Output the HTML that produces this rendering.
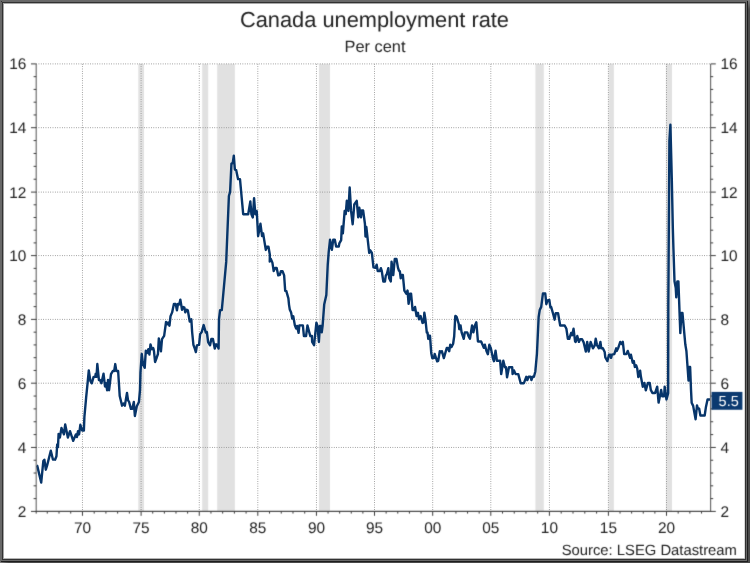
<!DOCTYPE html>
<html><head><meta charset="utf-8"><title>Canada unemployment rate</title>
<style>
html,body{margin:0;padding:0;background:#fff;}
body{width:750px;height:563px;position:relative;overflow:hidden;font-family:"Liberation Sans",sans-serif;}
svg text{font-family:"Liberation Sans",sans-serif;text-rendering:geometricPrecision;}
</style></head><body>
<svg width="750" height="563" viewBox="0 0 750 563" style="position:absolute;left:0;top:0;will-change:transform;opacity:0.9999">
<defs><linearGradient id="gv" x1="0" y1="0" x2="0" y2="1"><stop offset="0" stop-color="#808080"/><stop offset="1" stop-color="#4a4a4a"/></linearGradient><linearGradient id="gh" x1="0" y1="0" x2="1" y2="0"><stop offset="0" stop-color="#808080"/><stop offset="1" stop-color="#484848"/></linearGradient></defs>
<rect x="0" y="0" width="750" height="563" fill="#494949"/>
<rect x="748" y="0" width="2" height="9" fill="url(#gv)"/>
<rect x="0" y="562" width="9" height="1" fill="url(#gh)"/>
<rect x="0" y="0" width="748" height="562" fill="#1e1e1e"/>
<rect x="0" y="0" width="747" height="561" fill="#686868"/>
<rect x="2" y="2" width="744" height="558" fill="#313131"/>
<rect x="3" y="3" width="742" height="556" fill="#fff"/>
<rect x="3" y="3" width="1" height="556" fill="#a4a4a4"/>
<rect x="3" y="3" width="742" height="1" fill="#a8a8a8"/>
<rect x="744" y="4" width="1" height="555" fill="#d8d8d8"/>
<rect x="4" y="558" width="741" height="1" fill="#b4b4b4"/>
<rect x="1" y="1" width="1" height="1" fill="#333"/>
<rect x="747" y="0" width="1" height="1" fill="#686868"/>
<rect x="0" y="561" width="1" height="1" fill="#686868"/>
<filter id="sb" color-interpolation-filters="sRGB" x="0" y="0" width="750" height="563" filterUnits="userSpaceOnUse"><feConvolveMatrix order="3" kernelMatrix="0.01210 0.08580 0.01210 0.08580 0.60840 0.08580 0.01210 0.08580 0.01210" divisor="1" edgeMode="duplicate"/></filter>
<g filter="url(#sb)">
<rect x="6" y="6" width="736" height="550" fill="#fff"/>
<rect x="138.3" y="63.9" width="5.70" height="447.50" fill="#e1e1e1"/>
<rect x="202.2" y="63.9" width="6.00" height="447.50" fill="#e1e1e1"/>
<rect x="217.2" y="63.9" width="17.70" height="447.50" fill="#e1e1e1"/>
<rect x="319.0" y="63.9" width="11.00" height="447.50" fill="#e1e1e1"/>
<rect x="535.4" y="63.9" width="8.40" height="447.50" fill="#e1e1e1"/>
<rect x="608.5" y="63.9" width="5.40" height="447.50" fill="#e1e1e1"/>
<rect x="665.9" y="63.9" width="6.10" height="447.50" fill="#e1e1e1"/>
</g>
<path d="M36.2 447.45H710.6M36.2 383.20H710.6M36.2 319.40H710.6M36.2 255.60H710.6M36.2 192.10H710.6M36.2 127.70H710.6M36.2 63.90H710.6M82.46 63.9V511.4M141.10 63.9V511.4M199.25 63.9V511.4M257.80 63.9V511.4M316.45 63.9V511.4M374.50 63.9V511.4M432.70 63.9V511.4M490.80 63.9V511.4M549.40 63.9V511.4M608.40 63.9V511.4M666.50 63.9V511.4" stroke="#909090" stroke-width="1.0" stroke-dasharray="0.8 1.54375" fill="none"/>
<polyline points="36.61,465.33 37.25,465.87 41.20,482.51 43.33,461.07 44.40,459.68 45.79,469.71 47.07,465.65 50.80,450.72 52.93,459.47 55.07,459.68 56.45,456.27 57.20,444.53 57.95,447.20 58.59,433.87 59.87,437.60 61.47,428.00 63.92,434.40 65.20,424.48 67.87,437.60 70.00,431.20 73.20,440.80 75.87,434.40 76.93,437.07 78.00,431.20 79.07,434.40 80.35,424.80 82.27,430.67 83.87,430.67 84.40,417.00 86.13,397.67 87.73,381.67 88.80,370.47 90.40,381.13 91.79,383.27 93.60,376.87 95.20,376.87 95.73,373.67 96.48,376.87 97.33,364.07 98.93,380.07 100.00,380.07 101.39,383.27 103.52,373.67 105.01,386.47 106.08,383.27 107.15,390.20 108.00,380.07 109.07,390.20 110.99,374.20 112.80,371.00 114.19,371.00 115.25,364.07 116.32,371.00 118.13,371.00 119.73,396.07 122.08,405.67 123.47,403.53 124.85,405.67 126.99,392.87 128.05,400.33 129.12,401.93 130.93,408.87 132.32,408.87 133.81,401.93 134.88,416.01 136.80,406.20 138.93,401.93 140.00,390.20 140.45,372.67 141.73,354.00 143.01,364.13 144.72,367.87 145.79,350.80 147.07,352.93 148.35,349.20 149.41,354.53 150.48,344.40 151.87,349.20 153.25,348.13 154.00,351.33 155.07,362.00 156.67,357.73 157.95,354.00 158.80,338.53 160.93,351.33 162.00,339.07 164.13,335.87 166.05,322.00 167.33,324.13 168.19,322.53 169.47,325.73 170.53,316.13 172.13,312.40 173.95,303.87 175.65,303.87 176.93,310.27 178.00,303.87 179.28,304.40 180.35,299.60 182.05,309.73 183.33,307.07 184.40,307.60 185.25,312.40 186.53,309.73 187.81,310.27 189.73,321.47 191.33,319.33 192.13,332.00 193.41,344.80 194.80,348.53 195.87,352.05 196.93,345.33 199.07,344.80 200.13,334.13 201.73,332.00 203.65,325.07 205.79,332.53 206.85,332.00 208.13,342.13 210.05,345.33 211.33,338.93 212.93,338.93 214.75,348.53 216.13,344.27 217.20,344.80 218.59,348.53 219.01,319.20 220.08,310.13 221.79,310.13 223.00,297.00 226.20,261.90 228.90,196.00 230.10,191.90 231.45,163.67 232.73,163.13 233.80,155.67 234.87,169.53 236.15,170.07 238.07,179.13 239.99,179.13 242.33,204.73 243.19,214.20 248.20,214.20 250.33,201.40 251.40,214.20 252.79,217.40 254.07,198.20 255.35,214.20 256.73,211.00 258.12,236.07 260.47,223.80 262.07,236.07 263.13,233.40 265.80,249.93 266.87,246.73 268.47,246.73 269.85,254.73 269.73,261.53 270.80,258.87 272.40,262.60 273.68,271.13 275.07,267.93 276.67,267.93 278.27,275.40 279.87,274.87 280.93,271.13 282.53,271.13 284.13,275.40 285.20,290.87 286.27,290.87 288.40,298.33 289.00,304.60 289.75,309.40 291.13,312.60 292.20,318.47 293.27,316.33 294.87,325.40 296.15,328.60 297.00,325.93 298.60,332.87 299.35,325.40 302.87,325.40 303.93,336.07 306.07,336.07 307.45,325.40 309.27,332.33 310.33,336.07 311.93,336.07 312.15,341.93 314.07,345.13 316.41,322.73 317.48,325.93 318.87,341.93 319.93,325.93 321.00,325.93 321.75,332.33 322.60,325.93 324.20,304.60 326.33,295.00 327.71,265.20 328.67,252.40 330.05,239.60 331.87,249.73 333.25,239.60 334.75,239.60 336.13,246.53 338.80,246.53 339.33,243.33 341.15,240.13 341.79,226.40 342.85,233.33 344.67,210.93 345.73,214.13 346.80,200.80 348.40,210.93 349.68,187.47 351.07,210.93 352.67,224.27 354.27,204.53 356.72,200.80 358.21,217.33 359.28,207.73 360.99,217.33 361.73,210.40 363.12,210.40 364.93,223.73 365.47,236.53 366.32,226.93 369.20,252.93 370.27,250.27 371.87,252.93 373.47,267.33 375.60,267.87 376.67,264.67 377.73,271.07 379.87,271.07 380.88,268.13 381.73,270.80 383.33,281.47 384.93,281.47 385.79,275.60 386.85,274.00 388.35,268.13 389.20,278.27 390.80,281.47 391.55,261.73 393.25,275.07 394.75,259.07 396.45,259.07 397.95,267.60 399.01,270.80 399.87,271.33 400.72,278.27 401.79,275.07 402.85,275.07 404.35,290.53 406.27,293.73 407.55,290.53 408.61,303.87 410.00,293.73 411.07,293.73 412.60,310.13 413.99,310.13 415.05,306.93 416.55,316.00 417.93,312.80 419.00,319.20 420.60,316.00 422.52,322.93 423.59,322.40 424.33,312.80 425.40,319.20 426.79,332.53 427.53,332.53 428.28,338.93 429.13,335.73 429.99,335.73 431.27,353.33 432.33,358.13 433.93,358.13 434.68,353.87 436.07,358.13 437.13,361.33 438.20,360.80 439.80,351.20 440.87,352.27 441.93,351.20 443.85,358.13 446.73,348.00 447.80,348.00 449.19,351.20 450.25,344.80 451.53,346.93 453.13,343.73 454.20,336.27 455.27,316.00 455.53,315.87 456.60,316.93 458.73,323.87 459.27,329.20 460.55,325.47 461.61,332.40 463.75,338.80 464.81,332.40 467.27,332.40 468.33,335.60 469.93,338.80 472.07,325.47 473.35,332.40 474.73,326.00 476.33,322.27 477.93,341.47 481.13,341.47 482.52,344.67 483.80,347.87 484.87,344.67 486.47,351.07 487.85,354.27 489.35,344.67 490.73,347.87 492.12,354.27 492.87,358.00 493.93,361.20 495.55,350.67 496.93,360.80 500.13,360.80 501.20,374.13 503.33,360.80 504.93,367.20 506.00,367.20 507.07,377.33 508.99,367.20 512.19,367.20 512.61,374.13 514.00,370.40 515.60,374.13 518.27,374.13 520.72,383.20 523.92,383.20 526.27,376.80 527.33,380.00 528.61,376.80 530.53,376.80 531.39,380.00 532.67,376.80 533.95,376.80 535.33,371.47 536.93,353.87 538.65,317.00 539.72,310.07 541.21,306.87 542.92,293.53 545.27,293.53 546.33,304.20 547.61,300.47 549.32,299.93 550.39,307.40 551.13,306.87 552.95,313.27 554.65,319.67 555.72,313.27 558.07,313.27 560.20,325.53 564.68,325.53 566.39,328.73 567.88,338.87 569.27,338.87 571.08,333.00 572.15,335.13 573.53,328.73 575.13,341.53 575.67,341.87 577.27,336.00 578.87,341.87 580.15,339.20 582.07,339.20 583.67,342.40 585.80,351.47 587.19,341.87 588.68,351.47 590.60,341.87 592.95,348.27 594.65,345.60 595.72,338.67 597.00,345.07 598.92,348.27 600.41,341.87 601.27,348.27 602.87,348.27 604.68,352.00 605.32,357.33 607.45,361.07 608.95,354.67 610.33,354.67 611.08,357.87 611.93,354.67 614.28,354.13 616.20,348.27 616.73,350.93 618.33,347.73 620.25,341.87 621.53,344.00 622.81,341.87 624.20,354.13 626.33,354.13 627.72,350.93 630.07,357.87 630.92,354.67 632.73,362.67 633.80,361.07 634.87,366.93 636.19,365.33 637.25,368.53 638.32,377.07 640.13,370.67 640.88,376.53 642.80,386.67 644.40,382.93 645.79,390.40 647.92,382.93 649.73,382.93 650.80,389.87 652.40,393.07 655.07,393.07 657.20,386.67 658.59,402.67 661.15,389.87 662.21,396.27 664.13,396.27 664.67,386.67 666.48,399.47 668.15,393.10 668.30,306.80 669.40,140.60 670.40,124.80 671.80,179.00 672.80,226.90 673.45,249.30 674.50,281.20 675.73,287.80 676.27,297.40 677.33,281.40 678.40,281.40 680.32,333.13 681.39,312.87 682.45,312.87 685.33,344.53 686.40,350.93 688.53,380.59 689.28,366.93 690.13,366.93 691.01,389.87 691.65,402.67 693.15,405.87 695.60,419.20 696.99,405.33 697.73,408.00 699.12,408.53 700.40,415.47 704.67,415.47 705.95,406.93 707.55,399.47 710.00,399.47" fill="none" stroke="#07356a" stroke-width="2.4" stroke-linejoin="round" stroke-linecap="butt"/>
<g filter="url(#sb)">
<path d="M36.2 63.9V511.4M710.6 511.4V63.9" stroke="#6a6a6a" stroke-width="1.15" fill="none"/><path d="M35.650000000000006 511.4H711.15" stroke="#4c4c4c" stroke-width="1.1" fill="none"/><path d="M31.00 511.40H36.2M710.6 511.40H715.80M33.60 498.61H36.2M710.6 498.61H713.20M33.60 485.82H36.2M710.6 485.82H713.20M33.60 473.03H36.2M710.6 473.03H713.20M33.60 460.24H36.2M710.6 460.24H713.20M31.00 447.45H36.2M710.6 447.45H715.80M33.60 434.60H36.2M710.6 434.60H713.20M33.60 421.75H36.2M710.6 421.75H713.20M33.60 408.90H36.2M710.6 408.90H713.20M33.60 396.05H36.2M710.6 396.05H713.20M31.00 383.20H36.2M710.6 383.20H715.80M33.60 370.44H36.2M710.6 370.44H713.20M33.60 357.68H36.2M710.6 357.68H713.20M33.60 344.92H36.2M710.6 344.92H713.20M33.60 332.16H36.2M710.6 332.16H713.20M31.00 319.40H36.2M710.6 319.40H715.80M33.60 306.64H36.2M710.6 306.64H713.20M33.60 293.88H36.2M710.6 293.88H713.20M33.60 281.12H36.2M710.6 281.12H713.20M33.60 268.36H36.2M710.6 268.36H713.20M31.00 255.60H36.2M710.6 255.60H715.80M33.60 242.90H36.2M710.6 242.90H713.20M33.60 230.20H36.2M710.6 230.20H713.20M33.60 217.50H36.2M710.6 217.50H713.20M33.60 204.80H36.2M710.6 204.80H713.20M31.00 192.10H36.2M710.6 192.10H715.80M33.60 179.22H36.2M710.6 179.22H713.20M33.60 166.34H36.2M710.6 166.34H713.20M33.60 153.46H36.2M710.6 153.46H713.20M33.60 140.58H36.2M710.6 140.58H713.20M31.00 127.70H36.2M710.6 127.70H715.80M33.60 114.94H36.2M710.6 114.94H713.20M33.60 102.18H36.2M710.6 102.18H713.20M33.60 89.42H36.2M710.6 89.42H713.20M33.60 76.66H36.2M710.6 76.66H713.20M31.00 63.90H36.2M710.6 63.90H715.80M36.20 511.4V513.60M47.28 511.4V513.60M59.00 511.4V513.60M70.73 511.4V513.60M82.46 511.4V515.80M94.19 511.4V513.60M105.92 511.4V513.60M117.64 511.4V513.60M129.37 511.4V513.60M141.10 511.4V515.80M152.73 511.4V513.60M164.36 511.4V513.60M175.99 511.4V513.60M187.62 511.4V513.60M199.25 511.4V515.80M210.96 511.4V513.60M222.67 511.4V513.60M234.38 511.4V513.60M246.09 511.4V513.60M257.80 511.4V515.80M269.53 511.4V513.60M281.26 511.4V513.60M292.99 511.4V513.60M304.72 511.4V513.60M316.45 511.4V515.80M328.06 511.4V513.60M339.67 511.4V513.60M351.28 511.4V513.60M362.89 511.4V513.60M374.50 511.4V515.80M386.14 511.4V513.60M397.78 511.4V513.60M409.42 511.4V513.60M421.06 511.4V513.60M432.70 511.4V515.80M444.32 511.4V513.60M455.94 511.4V513.60M467.56 511.4V513.60M479.18 511.4V513.60M490.80 511.4V515.80M502.52 511.4V513.60M514.24 511.4V513.60M525.96 511.4V513.60M537.68 511.4V513.60M549.40 511.4V515.80M561.20 511.4V513.60M573.00 511.4V513.60M584.80 511.4V513.60M596.60 511.4V513.60M608.40 511.4V515.80M620.02 511.4V513.60M631.64 511.4V513.60M643.26 511.4V513.60M654.88 511.4V513.60M666.50 511.4V515.80M678.18 511.4V513.60M689.86 511.4V513.60M701.54 511.4V513.60" stroke="#3c3c3c" stroke-width="1.0" fill="none"/>
<rect x="711.6" y="391.9" width="30.8" height="17.85" fill="#0b3a70"/>
<text x="728.7" y="406.4" font-size="14.5" fill="#fff" text-anchor="middle">5.5</text>
<text x="26.3" y="516.90" font-size="15.4" text-anchor="end" fill="#222">2</text>
<text x="720.5" y="516.90" font-size="15.4" text-anchor="start" fill="#222">2</text>
<text x="26.3" y="452.95" font-size="15.4" text-anchor="end" fill="#222">4</text>
<text x="720.5" y="452.95" font-size="15.4" text-anchor="start" fill="#222">4</text>
<text x="26.3" y="388.70" font-size="15.4" text-anchor="end" fill="#222">6</text>
<text x="720.5" y="388.70" font-size="15.4" text-anchor="start" fill="#222">6</text>
<text x="26.3" y="324.90" font-size="15.4" text-anchor="end" fill="#222">8</text>
<text x="720.5" y="324.90" font-size="15.4" text-anchor="start" fill="#222">8</text>
<text x="26.3" y="261.10" font-size="15.4" text-anchor="end" fill="#222">10</text>
<text x="720.5" y="261.10" font-size="15.4" text-anchor="start" fill="#222">10</text>
<text x="26.3" y="197.60" font-size="15.4" text-anchor="end" fill="#222">12</text>
<text x="720.5" y="197.60" font-size="15.4" text-anchor="start" fill="#222">12</text>
<text x="26.3" y="133.20" font-size="15.4" text-anchor="end" fill="#222">14</text>
<text x="720.5" y="133.20" font-size="15.4" text-anchor="start" fill="#222">14</text>
<text x="26.3" y="69.40" font-size="15.4" text-anchor="end" fill="#222">16</text>
<text x="720.5" y="69.40" font-size="15.4" text-anchor="start" fill="#222">16</text>
<text x="82.46" y="532.6" font-size="15.4" text-anchor="middle" fill="#222">70</text>
<text x="141.10" y="532.6" font-size="15.4" text-anchor="middle" fill="#222">75</text>
<text x="199.25" y="532.6" font-size="15.4" text-anchor="middle" fill="#222">80</text>
<text x="257.80" y="532.6" font-size="15.4" text-anchor="middle" fill="#222">85</text>
<text x="316.45" y="532.6" font-size="15.4" text-anchor="middle" fill="#222">90</text>
<text x="374.50" y="532.6" font-size="15.4" text-anchor="middle" fill="#222">95</text>
<text x="432.70" y="532.6" font-size="15.4" text-anchor="middle" fill="#222">00</text>
<text x="490.80" y="532.6" font-size="15.4" text-anchor="middle" fill="#222">05</text>
<text x="549.40" y="532.6" font-size="15.4" text-anchor="middle" fill="#222">10</text>
<text x="608.40" y="532.6" font-size="15.4" text-anchor="middle" fill="#222">15</text>
<text x="666.50" y="532.6" font-size="15.4" text-anchor="middle" fill="#222">20</text>
<text x="374.5" y="26.5" font-size="21.8" text-anchor="middle" fill="#222">Canada unemployment rate</text>
<text x="375" y="52.0" font-size="16.4" text-anchor="middle" fill="#222">Per cent</text>
<text x="736.9" y="554.9" font-size="14.8" text-anchor="end" fill="#222">Source: LSEG Datastream</text>
</g>
</svg>
</body></html>
